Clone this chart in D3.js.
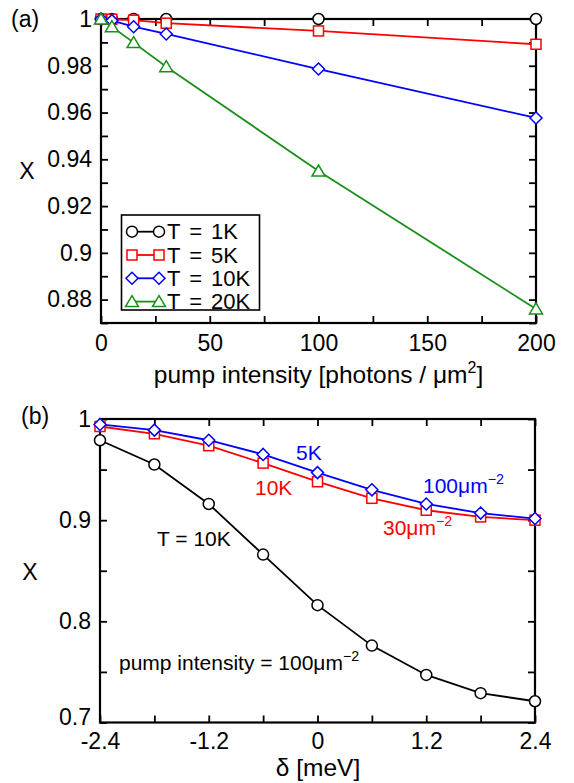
<!DOCTYPE html>
<html>
<head>
<meta charset="utf-8">
<script src="https://cdn.jsdelivr.net/npm/d3@7"></script>
<style>
  body { margin: 0; background: #fff; }
</style>
</head>
<body>
<div id="chart"></div>
<script>
// panel (a): X vs pump intensity
var pump = [0, 5, 15, 30, 100, 200];
var tempNames = ["T = 1K", "T = 5K", "T = 10K", "T = 20K"];
var xT1 = [1, 1, 1, 1, 1, 1];
var xT5 = [1, 0.9999, 0.9995, 0.9982, 0.9949, 0.9892];
var xT10 = [1, 0.9993, 0.9967, 0.9936, 0.9786, 0.9577];
var xT20 = [1, 0.9967, 0.9899, 0.9796, 0.935, 0.876];
var pumpTicks = [0, 25, 50, 75, 100, 125, 150, 175, 200];
var pumpLabels = [0, 50, 100, 150, 200];
var xaTicks = [0.87, 0.88, 0.89, 0.9, 0.91, 0.92, 0.93, 0.94, 0.95, 0.96, 0.97, 0.98, 0.99, 1];
var xaLabels = [0.88, 0.9, 0.92, 0.94, 0.96, 0.98, 1];

// panel (b): X vs detuning
var delta = [-2.4, -1.8, -1.2, -0.6, 0, 0.6, 1.2, 1.8, 2.4];
var b10K100 = [0.979, 0.955, 0.916, 0.866, 0.816, 0.776, 0.747, 0.729, 0.721];
var b10K30 = [0.9926, 0.9854, 0.9736, 0.9564, 0.938, 0.9216, 0.9098, 0.9032, 0.900];
var b5K100 = [0.9946, 0.989, 0.979, 0.965, 0.947, 0.930, 0.916, 0.907, 0.9016];
var deltaTicks = [-2.4, -1.8, -1.2, -0.6, 0, 0.6, 1.2, 1.8, 2.4];
var deltaLabels = [-2.4, -1.2, 0, 1.2, 2.4];
var xbTicks = [0.7, 0.75, 0.8, 0.85, 0.9, 0.95, 1];
var xbLabels = [0.7, 0.8, 0.9, 1];

var font = "'Liberation Sans', Arial, Helvetica, sans-serif";

var svg = d3.select("#chart")
    .append("svg")
    .attr("width", 574)
    .attr("height", 783)
    .style("font-family", font);

var xA = d3.scaleLinear().domain([0, 200]).range([101, 536]);
var yA = d3.scaleLinear().domain([0.87, 1]).range([323, 19]);
var xB = d3.scaleLinear().domain([-2.4, 2.4]).range([100, 535]);
var yB = d3.scaleLinear().domain([0.7, 1]).range([722.5, 419]);

function frame(x, y, xt, xl, yt, yl, xpad) {
    var x0 = x.range()[0], x1 = x.range()[1];
    var y0 = y.range()[0], y1 = y.range()[1];
    var lab = function (list) {
        return function (d) { return list.indexOf(d) >= 0 ? String(d) : ""; };
    };
    var none = function () { return ""; };
    var axes = [
        svg.append("g").attr("transform", "translate(0," + y0 + ")")
            .call(d3.axisBottom(x).tickValues(xt).tickSize(-7).tickSizeOuter(0).tickPadding(xpad).tickFormat(lab(xl))),
        svg.append("g").attr("transform", "translate(0," + y1 + ")")
            .call(d3.axisTop(x).tickValues(xt).tickSize(-7).tickSizeOuter(0).tickFormat(none)),
        svg.append("g").attr("transform", "translate(" + x0 + ",0)")
            .call(d3.axisLeft(y).tickValues(yt).tickSize(-7).tickSizeOuter(0).tickPadding(9).tickFormat(lab(yl))),
        svg.append("g").attr("transform", "translate(" + x1 + ",0)")
            .call(d3.axisRight(y).tickValues(yt).tickSize(-7).tickSizeOuter(0).tickFormat(none))
    ];
    axes.forEach(function (a) {
        a.select(".domain").remove();
        a.selectAll("line").attr("stroke", "#000").attr("stroke-width", 1.8);
        a.selectAll("text")
            .attr("font-family", font)
            .attr("font-size", 23)
            .attr("fill", "#000");
    });
    svg.append("rect")
        .attr("x", x0)
        .attr("y", y1)
        .attr("width", x1 - x0)
        .attr("height", y0 - y1)
        .attr("fill", "none")
        .attr("stroke", "#000")
        .attr("stroke-width", 2.2);
    return axes;
}

function marker(g, shape, cx, cy, color) {
    if (shape == "circle") {
        g.append("circle")
            .attr("cx", cx).attr("cy", cy).attr("r", 5.5)
            .attr("fill", "#fff").attr("stroke", color).attr("stroke-width", 1.5);
    } else if (shape == "square") {
        g.append("rect")
            .attr("x", cx - 5).attr("y", cy - 5).attr("width", 10).attr("height", 10)
            .attr("fill", "#fff").attr("stroke", color).attr("stroke-width", 1.5);
    } else if (shape == "diamond") {
        g.append("path")
            .attr("d", "M" + cx + "," + (cy - 6) + "L" + (cx + 6) + "," + cy + "L" + cx + "," + (cy + 6) + "L" + (cx - 6) + "," + cy + "Z")
            .attr("fill", "#fff").attr("stroke", color).attr("stroke-width", 1.5);
    } else {
        g.append("path")
            .attr("d", "M" + cx + "," + (cy - 6) + "L" + (cx + 6.5) + "," + (cy + 5) + "L" + (cx - 6.5) + "," + (cy + 5) + "Z")
            .attr("fill", "#fff").attr("stroke", color).attr("stroke-width", 1.5);
    }
}

function series(x, y, xs, ys, shape, color) {
    var g = svg.append("g");
    var line = d3.line()
        .x(function (d, i) { return x(xs[i]); })
        .y(function (d) { return y(d); });
    g.append("path")
        .attr("d", line(ys))
        .attr("fill", "none")
        .attr("stroke", color)
        .attr("stroke-width", 1.8);
    ys.forEach(function (v, i) {
        marker(g, shape, x(xs[i]), y(v), color);
    });
}

function label(x, y, txt, sup, color, size) {
    var t = svg.append("text")
        .attr("x", x)
        .attr("y", y)
        .attr("font-size", size || 21)
        .attr("fill", color)
        .text(txt);
    if (sup) {
        t.append("tspan")
            .attr("dy", -9)
            .attr("font-size", (size || 21) * 0.68)
            .text(sup);
    }
    return t;
}

// ---- panel (a)
frame(xA, yA, pumpTicks, pumpLabels, xaTicks, xaLabels, 12);
var colors = ["#000", "#ff0000", "#0000ff", "#1a8f1a"];
var shapes = ["circle", "square", "diamond", "triangle"];
var setsA = [xT1, xT5, xT10, xT20];
setsA.forEach(function (s, k) {
    series(xA, yA, pump, s, shapes[k], colors[k]);
});

// legend
var leg = svg.append("g");
leg.append("rect")
    .attr("x", 121.5).attr("y", 215)
    .attr("width", 138).attr("height", 95)
    .attr("fill", "#fff").attr("stroke", "#000").attr("stroke-width", 1.6);
tempNames.forEach(function (name, k) {
    var yy = 231.7 + 23.3 * k;
    leg.append("line")
        .attr("x1", 132).attr("x2", 159).attr("y1", yy).attr("y2", yy)
        .attr("stroke", colors[k]).attr("stroke-width", 1.8);
    marker(leg, shapes[k], 132, yy, colors[k]);
    marker(leg, shapes[k], 159, yy, colors[k]);
    leg.append("text")
        .attr("x", 167).attr("y", yy + 7.5)
        .attr("font-size", 22)
        .style("word-spacing", "3px")
        .text(name);
});

label(11, 27, "(a)", null, "#000", 23);
svg.append("text")
    .attr("x", 27).attr("y", 179)
    .attr("text-anchor", "middle")
    .attr("font-size", 23)
    .text("X");
var xlab = svg.append("text")
    .attr("x", 318.5).attr("y", 383)
    .attr("text-anchor", "middle")
    .attr("font-size", 24.5)
    .text("pump intensity [photons / \u03bcm");
xlab.append("tspan").attr("dy", -10).attr("font-size", 16).text("2");
xlab.append("tspan").attr("dy", 10).text("]");

// ---- panel (b)
var axesB = frame(xB, yB, deltaTicks, deltaLabels, xbTicks, xbLabels, 10);
// lift the 0.7 label a little so it clears -2.4
axesB[2].selectAll(".tick text")
    .filter(function (d) { return d == 0.7; })
    .attr("dy", "0.1em");
series(xB, yB, delta, b10K100, "circle", "#000");
series(xB, yB, delta, b10K30, "square", "#ff0000");
series(xB, yB, delta, b5K100, "diamond", "#0000ff");

label(21, 424, "(b)", null, "#000", 23);
svg.append("text")
    .attr("x", 30).attr("y", 580)
    .attr("text-anchor", "middle")
    .attr("font-size", 23)
    .text("X");
svg.append("text")
    .attr("x", 318).attr("y", 776)
    .attr("text-anchor", "middle")
    .attr("font-size", 24.5)
    .text("\u03b4 [meV]");

label(296, 460, "5K", null, "#0000ff");
label(255, 495, "10K", null, "#ff0000");
label(423, 493, "100\u03bcm", "\u22122", "#0000ff");
label(383, 535, "30\u03bcm", "\u22122", "#ff0000");
label(157, 546, "T = 10K", null, "#000");
label(119, 670, "pump intensity = 100\u03bcm", "\u22122", "#000");
</script>
</body>
</html>
